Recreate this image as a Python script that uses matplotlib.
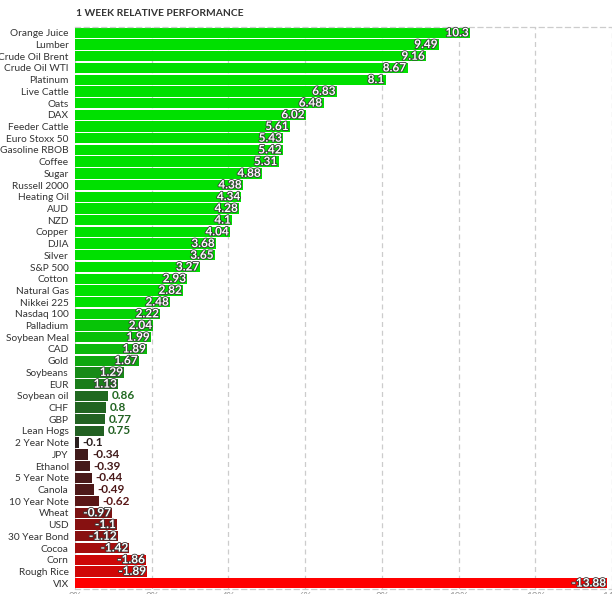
import numpy as np
import matplotlib
matplotlib.use('Agg')
import matplotlib.pyplot as plt
import matplotlib.patheffects as pe

# Дані: назви інструментів і зміна за тиждень, %
names = ['Orange Juice', 'Lumber', 'Crude Oil Brent', 'Crude Oil WTI', 'Platinum',
         'Live Cattle', 'Oats', 'DAX', 'Feeder Cattle', 'Euro Stoxx 50',
         'Gasoline RBOB', 'Coffee', 'Sugar', 'Russell 2000', 'Heating Oil',
         'AUD', 'NZD', 'Copper', 'DJIA', 'Silver', 'S&P 500', 'Cotton',
         'Natural Gas', 'Nikkei 225', 'Nasdaq 100', 'Palladium', 'Soybean Meal',
         'CAD', 'Gold', 'Soybeans', 'EUR', 'Soybean oil', 'CHF', 'GBP',
         'Lean Hogs', '2 Year Note', 'JPY', 'Ethanol', '5 Year Note', 'Canola',
         '10 Year Note', 'Wheat', 'USD', '30 Year Bond', 'Cocoa', 'Corn',
         'Rough Rice', 'VIX']
values = [10.3, 9.49, 9.16, 8.67, 8.1, 6.83, 6.48, 6.02, 5.61, 5.43,
          5.42, 5.31, 4.88, 4.38, 4.34, 4.28, 4.1, 4.04, 3.68, 3.65,
          3.27, 2.93, 2.82, 2.48, 2.22, 2.04, 1.99, 1.89, 1.67, 1.29,
          1.13, 0.86, 0.8, 0.77, 0.75, -0.1, -0.34, -0.39, -0.44, -0.49,
          -0.62, -0.97, -1.1, -1.12, -1.42, -1.86, -1.89, -13.88]
x_ticks = [0, 2, 4, 6, 8, 10, 12, 14]
x_tick_labels = ['0%', '2%', '4%', '6%', '8%', '10%', '12%', '14%']


def bar_color(v):
    # колір від темного до яскравого залежно від величини зміни
    if v >= 0:
        t = np.clip((v - 0.75) / (2.4 - 0.75), 0, 1)
        c0, c1 = np.array([0x22, 0x60, 0x22]), np.array([0x00, 0xe0, 0x00])
    else:
        t = np.clip((-v - 0.1) / (2.4 - 0.1), 0, 1)
        c0, c1 = np.array([0x2a, 0x1e, 0x1e]), np.array([0xff, 0x00, 0x00])
    return tuple((c0 + (c1 - c0) * t) / 255)


plt.rcParams['font.family'] = ['Lato', 'DejaVu Sans']

fig = plt.figure(figsize=(6.12, 5.94), dpi=100)
ax = fig.add_axes([75 / 612, 1 - 589 / 594, 1 - 75 / 612, (589 - 27) / 594])

y = np.arange(len(names))
mags = np.abs(values)
colors = [bar_color(v) for v in values]
ax.barh(y, mags, height=0.88, color=colors, zorder=2)

for yi, m, v, c in zip(y, mags, values, colors):
    txt = f'{v:g}'
    if m >= 0.9:
        ax.text(m - 0.04, yi, txt, ha='right', va='center', color='white',
                fontsize=8.5, fontweight='bold', zorder=3,
                path_effects=[pe.withStroke(linewidth=1.2, foreground='#3a3a3a')])
    else:
        ax.text(m + 0.1, yi, txt, ha='left', va='center', color=c,
                fontsize=8.5, fontweight='bold', zorder=3)

ax.set_xlim(0, 14)
ax.set_ylim(len(names) - 0.5, -0.5)
ax.set_yticks(y)
ax.set_yticklabels(names, fontsize=7.3, color='#333333')
ax.set_xticks(x_ticks)
ax.set_xticklabels(x_tick_labels, fontsize=7, color='#999999')
ax.tick_params(axis='both', length=0)
ax.tick_params(axis='y', pad=4.5)
ax.tick_params(axis='x', pad=2)

ax.grid(axis='x', color='#cccccc', linestyle=(0, (4, 3)), linewidth=0.9, zorder=0)
for side in ['left', 'right']:
    ax.spines[side].set_visible(False)
for side in ['top', 'bottom']:
    ax.spines[side].set_color('#cccccc')
    ax.spines[side].set_linestyle((0, (4, 3)))
    ax.spines[side].set_linewidth(0.9)

fig.text(76 / 612, 1 - 13 / 594, '1 WEEK RELATIVE PERFORMANCE', ha='left',
         va='center', fontsize=7.4, fontweight='bold', color='#333333')

fig.savefig('out.png', dpi=100)
